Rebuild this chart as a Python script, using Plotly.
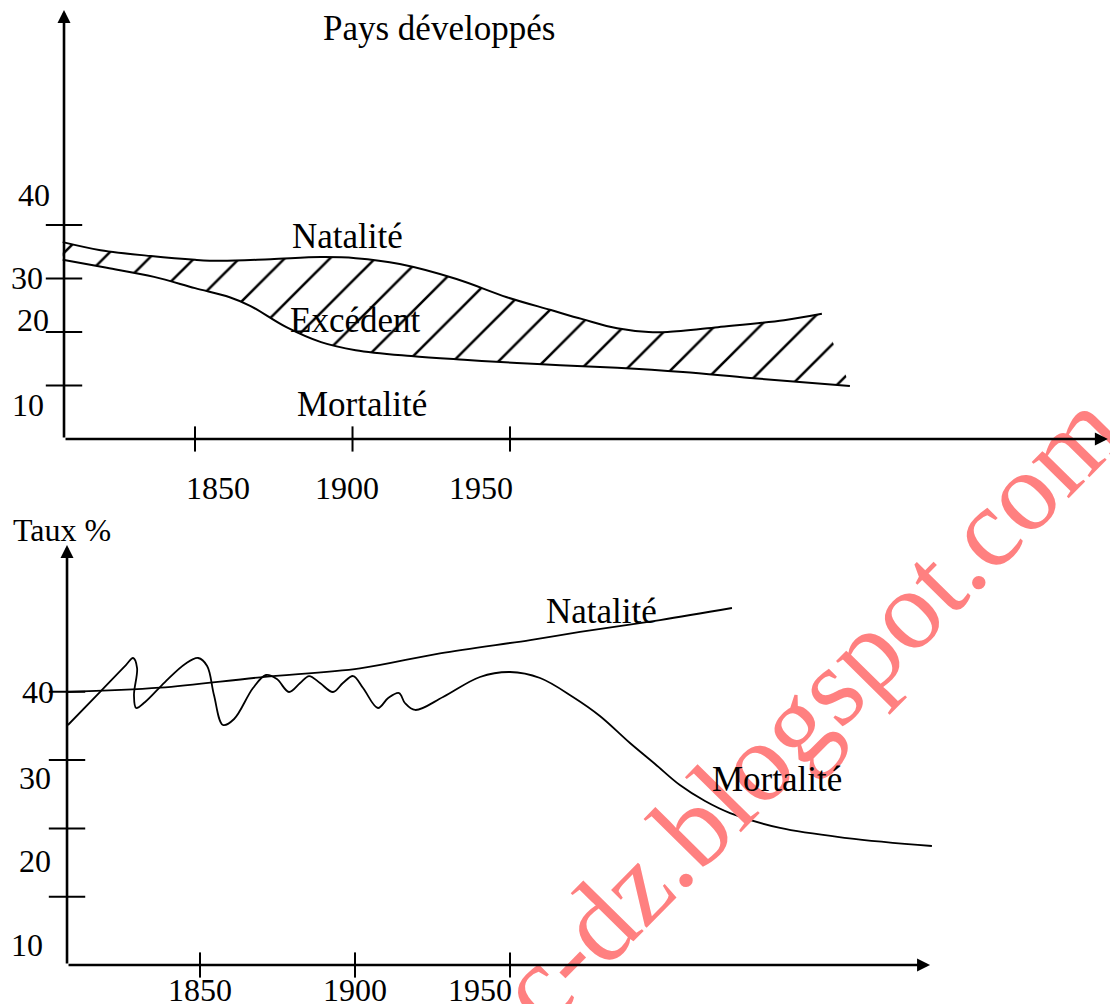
import plotly.graph_objects as go

# ---------------- data (top panel: developed countries) ----------------
top_nat_years = [1808, 1820, 1836, 1850, 1858, 1874, 1890, 1901, 1915, 1933, 1949, 1963, 1973, 1984, 1994, 2000, 2016, 2037, 2049]
top_nat_rates = [36.8, 35.3, 34.2, 33.5, 33.3, 33.6, 34.0, 33.8, 32.7, 29.9, 26.5, 24.1, 22.4, 20.7, 20.0, 20.0, 20.9, 22.2, 23.4]

top_mort_years = [1808, 1822, 1837, 1850, 1861, 1867.5, 1879, 1890, 1901, 1918.6, 1935.4, 1952.2, 1965.9, 1984, 2004.9, 2026.2, 2057.9]
top_mort_rates = [33.5, 32.0, 30.3, 28.2, 26.5, 24.9, 20.9, 18.1, 16.6, 15.5, 14.8, 14.2, 13.8, 13.3, 12.5, 11.4, 9.9]

# ---------------- data (bottom panel) ----------------
bot_nat_years = [1807.1, 1837.1, 1869.4, 1901.6, 1927.4, 1956.5, 1972.6, 1998.4, 2021.6]
bot_nat_rates = [39.97, 40.60, 42.12, 43.44, 45.64, 47.58, 48.76, 50.51, 52.27]

bot_mort_years = [1807.4, 1817.7, 1826.1, 1828.4, 1829.7, 1828.7, 1829.4, 1832.3, 1838.7, 1845.2,
                  1849.4, 1852.3, 1854.5, 1857.4, 1861.0, 1867.1, 1871.3, 1874.8, 1878.7, 1882.3,
                  1885.2, 1888.7, 1892.9, 1896.1, 1899.4, 1902.6, 1907.4, 1910.7, 1914.2, 1916.1,
                  1919.4, 1928.4, 1940.3, 1950.0, 1959.7, 1970.3, 1979.0, 1988.7, 1996.8, 2004.8,
                  2012.9, 2021.0, 2037.1, 2058.7, 2086.1]
bot_mort_rates = [35.14, 39.97, 43.92, 44.95, 43.48, 39.53, 37.63, 38.51, 41.43, 44.07,
                  44.95, 43.78, 39.53, 35.14, 36.02, 40.56, 42.46, 41.87, 39.97, 41.29,
                  42.31, 41.29, 39.97, 41.29, 42.31, 40.56, 37.63, 39.09, 39.82, 38.36,
                  37.34, 39.24, 42.17, 42.90, 42.02, 39.24, 36.46, 32.50, 29.43, 26.35,
                  24.01, 22.25, 20.06, 18.59, 17.42]

x_tick_years = [1850, 1900, 1950]
x_tick_labels = ["1850", "1900", "1950"]
y_tick_rates = [10, 20, 30, 40]
y_tick_labels = ["10", "20", "30", "40"]

TOP_ORIGIN = 1808.41
BOT_ORIGIN = 1807.1

FONT = "Liberation Serif"
BLACK = "#000000"

fig = go.Figure()

# --- top panel curves with hatched excess ---
fig.add_trace(go.Scatter(x=top_mort_years, y=top_mort_rates, mode="lines",
                         line=dict(color=BLACK, width=2, shape="spline", smoothing=1.0),
                         xaxis="x", yaxis="y", hoverinfo="skip"))
fig.add_trace(go.Scatter(x=top_nat_years, y=top_nat_rates, mode="lines",
                         line=dict(color=BLACK, width=2, shape="spline", smoothing=1.0),
                         fill="tonexty", fillcolor="rgba(0,0,0,0)",
                         fillpattern=dict(shape="/", fgcolor=BLACK, fgopacity=1,
                                          bgcolor="rgba(0,0,0,0)",
                                          size=32, solidity=0.08, fillmode="overlay"),
                         xaxis="x", yaxis="y", hoverinfo="skip"))

# --- bottom panel curves ---
fig.add_trace(go.Scatter(x=bot_nat_years, y=bot_nat_rates, mode="lines",
                         line=dict(color=BLACK, width=1.8, shape="spline", smoothing=1.0),
                         xaxis="x2", yaxis="y2", hoverinfo="skip"))
fig.add_trace(go.Scatter(x=bot_mort_years, y=bot_mort_rates, mode="lines",
                         line=dict(color=BLACK, width=1.8, shape="spline", smoothing=1.0),
                         xaxis="x2", yaxis="y2", hoverinfo="skip"))

# --- tick marks (crossing the axes) ---
for xa, ya, origin in (("x", "y", TOP_ORIGIN), ("x2", "y2", BOT_ORIGIN)):
    fig.add_trace(go.Scatter(x=[origin] * len(y_tick_rates), y=y_tick_rates, mode="markers",
                             marker=dict(symbol="line-ew", size=26, line=dict(color=BLACK, width=2)),
                             xaxis=xa, yaxis=ya, hoverinfo="skip", cliponaxis=False))
    fig.add_trace(go.Scatter(x=x_tick_years, y=[0] * len(x_tick_years), mode="markers",
                             marker=dict(symbol="line-ns", size=18, line=dict(color=BLACK, width=2)),
                             xaxis=xa, yaxis=ya, hoverinfo="skip", cliponaxis=False))

annotations = []

# watermark
annotations.append(dict(xref="paper", yref="paper", x=0.6946, y=0.2560, text="bac-dz.blogspot.com",
                        showarrow=False, textangle=-45.5, xanchor="center", yanchor="middle",
                        font=dict(family=FONT, size=113, color="#FF8080")))

# axes as arrows
def axis_arrow(xref, yref, x0, y0, x1, y1):
    return dict(xref=xref, yref=yref, axref=xref, ayref=yref, x=x1, y=y1, ax=x0, ay=y0,
                text="", showarrow=True, arrowhead=2, arrowsize=1.0, arrowwidth=2.6,
                arrowcolor=BLACK, standoff=0, startstandoff=0)

annotations += [
    axis_arrow("x", "y", TOP_ORIGIN, 0, TOP_ORIGIN, 80.2),
    axis_arrow("x", "y", TOP_ORIGIN, 0, 2139.8, 0),
    axis_arrow("x2", "y2", BOT_ORIGIN, 0, BOT_ORIGIN, 61.5),
    axis_arrow("x2", "y2", BOT_ORIGIN, 0, 2085.5, 0),
]

def label(xref, yref, x, y, text, size=35):
    return dict(xref=xref, yref=yref, x=x, y=y, text=text, showarrow=False,
                xanchor="center", yanchor="middle",
                font=dict(family=FONT, size=size, color=BLACK))

# top panel texts
annotations += [
    label("x", "y", 1927.5, 76.8, "Pays développés", 35),
    label("x", "y", 1898.3, 37.9, "Natalité"),
    label("x", "y", 1900.8, 22.2, "Excédent"),
    label("x", "y", 1903.0, 6.4, "Mortalité"),
]
top_ylab_pos = [(1797.0, 6.4), (1798.6, 22.2), (1796.7, 30.1), (1798.9, 45.6)]
for (xx, yy), t in zip(top_ylab_pos, y_tick_labels):
    annotations.append(label("x", "y", xx, yy, t, 32))
top_xlab_pos = [1857.3, 1898.3, 1940.8]
for xx, t in zip(top_xlab_pos, x_tick_labels):
    annotations.append(label("x", "y", xx, -9.2, t, 32))

# bottom panel texts
annotations += [
    label("x2", "y2", 1805.5, 63.7, "Taux %", 32),
    label("x2", "y2", 1979.4, 51.7, "Natalité"),
    label("x2", "y2", 2036.1, 27.2, "Mortalité"),
]
bot_ylab_pos = [(1794.2, 2.9), (1796.8, 15.2), (1796.8, 27.4), (1797.7, 39.97)]
for (xx, yy), t in zip(bot_ylab_pos, y_tick_labels):
    annotations.append(label("x2", "y2", xx, yy, t, 32))
bot_xlab_pos = [1850.0, 1900.0, 1940.3]
for xx, t in zip(bot_xlab_pos, x_tick_labels):
    annotations.append(label("x2", "y2", xx, -3.66, t, 32))

hidden = dict(visible=False, showgrid=False, zeroline=False, fixedrange=True)
fig.update_layout(
    width=1110, height=1004,
    margin=dict(l=0, r=0, t=0, b=0),
    paper_bgcolor="white", plot_bgcolor="white",
    showlegend=False,
    xaxis=dict(domain=[0, 1], range=[1788.09, 2140.47], anchor="y", **hidden),
    yaxis=dict(domain=[0.5, 1], range=[-11.78, 82.06], anchor="x", **hidden),
    xaxis2=dict(domain=[0, 1], range=[1785.48, 2143.55], anchor="y2", **hidden),
    yaxis2=dict(domain=[0, 0.5], range=[-5.71, 67.79], anchor="x2", **hidden),
    annotations=annotations,
)

fig.write_html("out.html", config={"displayModeBar": False},
               post_script="document.body.style.margin='0';document.body.style.overflow='hidden';")
